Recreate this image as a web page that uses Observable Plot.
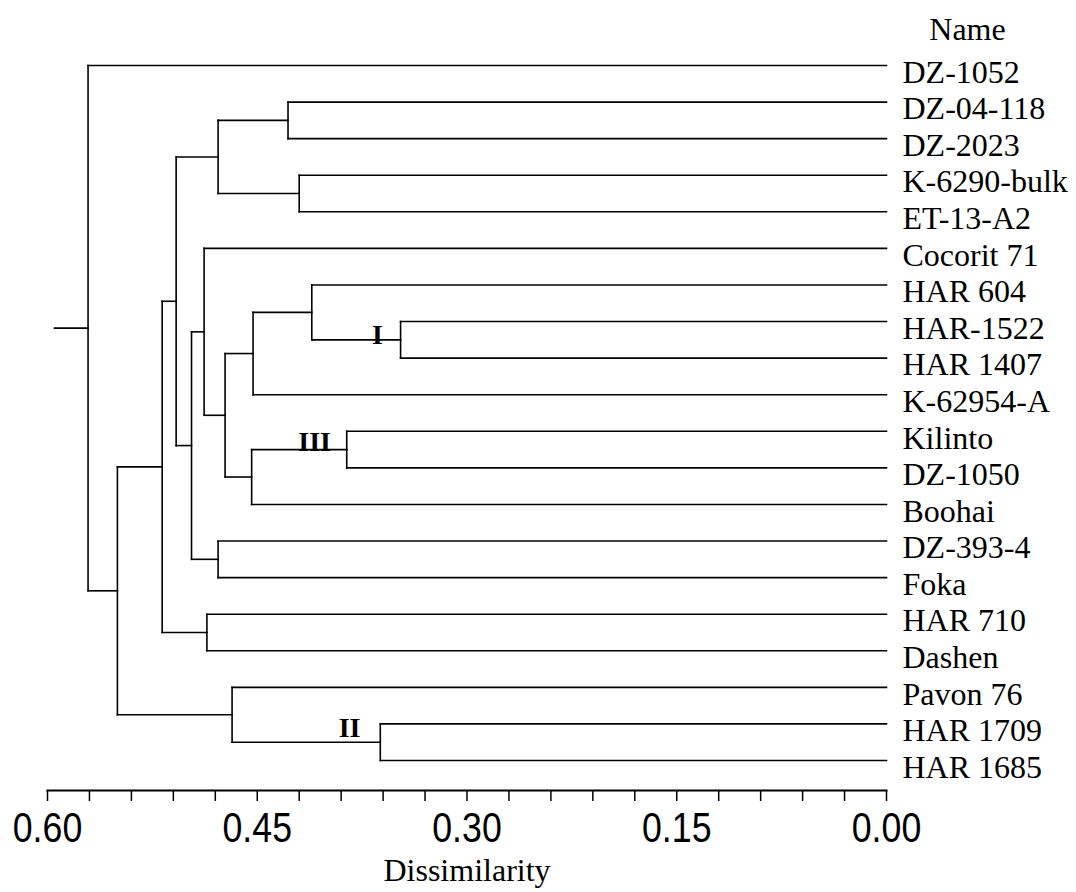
<!DOCTYPE html>
<html>
<head>
<meta charset="utf-8">
<script src="https://cdn.jsdelivr.net/npm/d3@7"></script>
<script src="https://cdn.jsdelivr.net/npm/@observablehq/plot@0.6"></script>
<style>
  html, body { margin: 0; padding: 0; background: #fff; }
  #chart svg { display: block; }
</style>
</head>
<body>
<div id="chart"></div>
<script>
// Leaves, top to bottom
const leaves = ["DZ-1052","DZ-04-118","DZ-2023","K-6290-bulk","ET-13-A2","Cocorit 71","HAR 604","HAR-1522","HAR 1407","K-62954-A","Kilinto","DZ-1050","Boohai","DZ-393-4","Foka","HAR 710","Dashen","Pavon 76","HAR 1709","HAR 1685"];

// Merges: [node, first child, second child, dissimilarity]
const merges = [
  ["D", "DZ-04-118", "DZ-2023", 0.428],
  ["E", "K-6290-bulk", "ET-13-A2", 0.420],
  ["F", "D", "E", 0.478],
  ["I", "HAR-1522", "HAR 1407", 0.3475],
  ["L", "HAR 604", "I", 0.411],
  ["K", "L", "K-62954-A", 0.453],
  ["N", "Kilinto", "DZ-1050", 0.386],
  ["M", "N", "Boohai", 0.454],
  ["J", "K", "M", 0.473],
  ["H", "Cocorit 71", "J", 0.488],
  ["Q", "DZ-393-4", "Foka", 0.478],
  ["G", "H", "Q", 0.497],
  ["C", "F", "G", 0.508],
  ["R", "HAR 710", "Dashen", 0.486],
  ["B", "C", "R", 0.518],
  ["S", "HAR 1709", "HAR 1685", 0.362],
  ["P", "Pavon 76", "S", 0.468],
  ["A", "B", "P", 0.550],
  ["root", "DZ-1052", "A", 0.571]
];
const rootTail = 0.595;

// Cluster annotations
const clusterLabels = ["I", "II", "III"];
const clusterNodes = ["I", "S", "N"];
const clusterAt = [0.364, 0.384, 0.409];

// Axis ticks
const tickValues = d3.range(0, 21).map(i => +(i * 0.03).toFixed(2));
const labeledTicks = [0.6, 0.45, 0.3, 0.15, 0];

// ---- build tree geometry (in data units) ----
const pos = new Map();
leaves.forEach((name, i) => pos.set(name, {x: 0, y: i}));
const links = [];
for (const [id, a, b, h] of merges) {
  const pa = pos.get(a), pb = pos.get(b);
  const y = (pa.y + pb.y) / 2;
  pos.set(id, {x: h, y});
  links.push({x1: h, y1: pa.y, x2: h, y2: pb.y});       // vertical
  links.push({x1: h, y1: pa.y, x2: pa.x, y2: pa.y});    // horizontal to first child
  links.push({x1: h, y1: pb.y, x2: pb.x, y2: pb.y});    // horizontal to second child
}
const root = pos.get("root");
links.push({x1: rootTail, y1: root.y, x2: root.x, y2: root.y});

const clusters = clusterLabels.map((t, i) => {
  const p = pos.get(clusterNodes[i]);
  return {text: t, x: clusterAt[i], y: p.y};
});
const clusterDy = {"I": -5, "II": -14, "III": -8};

const serif = "'Liberation Serif', 'Times New Roman', Times, serif";
const sans = "'Liberation Sans', Arial, Helvetica, sans-serif";

const plot = Plot.plot({
  width: 1076,
  height: 892,
  marginLeft: 47,
  marginRight: 190,
  marginTop: 0,
  marginBottom: 102,
  x: {domain: [0.6, 0]},
  y: {domain: [0, leaves.length - 1], range: [65, 760], axis: null},
  style: {background: "#fff", color: "#000"},
  marks: [
    Plot.frame({anchor: "bottom", stroke: "#000", strokeWidth: 2}),
    Plot.axisX({
      ticks: tickValues,
      tickSize: 11,
      tickPadding: 11,
      strokeWidth: 1.5,
      fontFamily: sans,
      fontSize: 42,
      tickFormat: d => labeledTicks.some(v => Math.abs(v - d) < 1e-9) ? d.toFixed(2) : "",
      label: null
    }),
    Plot.link(links, {x1: "x1", y1: "y1", x2: "x2", y2: "y2", stroke: "#000", strokeWidth: 1.6, strokeLinecap: "square"}),
    Plot.text(leaves, {x: 0, y: (d, i) => i, text: d => d, textAnchor: "start", lineAnchor: "middle", dx: 16, dy: 7, fontFamily: serif, fontSize: 32, fill: "#000"}),
    ...clusters.map(c => Plot.text([c], {x: "x", y: "y", text: "text", dy: clusterDy[c.text], lineAnchor: "middle", fontFamily: serif, fontWeight: "bold", fontSize: 28, fill: "#000", textAnchor: "middle"})),
    Plot.text(["Name"], {frameAnchor: "top-right", lineAnchor: "middle", dx: 81, dy: 29, textAnchor: "middle", fontFamily: serif, fontSize: 32, fill: "#000"}),
    Plot.text(["Dissimilarity"], {frameAnchor: "bottom", lineAnchor: "middle", dy: 80, textAnchor: "middle", fontFamily: serif, fontSize: 32, fill: "#000"})
  ]
});
// condense the sans-serif tick labels horizontally, as in the original
d3.select(plot).selectAll('g[aria-label="x-axis tick label"] text').each(function() {
  const t = this.getAttribute("transform") || "";
  this.setAttribute("transform", t + " scale(0.85,1)");
});
document.getElementById("chart").appendChild(plot);
</script>
</body>
</html>
